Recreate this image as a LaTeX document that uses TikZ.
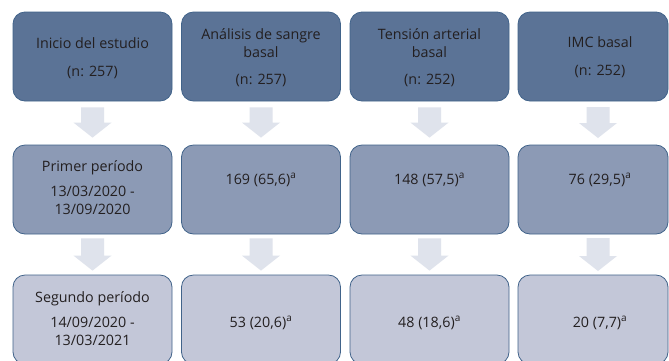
\documentclass[tikz,border=0pt]{standalone}
\usepackage{fontspec}
\setmainfont{Open Sans}
\usetikzlibrary{calc}
\definecolor{rowA}{HTML}{5B7396}
\definecolor{rowB}{HTML}{8C9AB5}
\definecolor{rowC}{HTML}{C3C7D8}
\definecolor{edgeC}{HTML}{41638A}
\definecolor{arrC}{HTML}{DFE3EC}
\definecolor{txtC}{HTML}{231F20}
\newcommand\flowarr[4]{\fill[arrC] let \p1=(#1.south), \p2=(#2.north) in
 (\x1-11.5pt,\y1-#3) -- (\x1+11.5pt,\y1-#3) -- (\x1+11.5pt,\y2+#4+15pt) -- (\x1+19pt,\y2+#4+15pt) -- (\x1,\y2+#4) -- (\x1-19pt,\y2+#4+15pt) -- (\x1-11.5pt,\y2+#4+15pt) -- cycle;}
\begin{document}
\begin{tikzpicture}[x=1pt,y=-1pt,
  box/.style={draw=edgeC, line width=0.8pt, rounded corners=12pt, minimum width=159pt, minimum height=89pt, inner sep=0pt},
  wbox/.style={box, minimum width=150pt},
  lbl/.style={text=txtC, align=center, inner sep=0pt, font=\fontsize{14.3}{18}\selectfont}]
\useasboundingbox (0,0) rectangle (669,360);
\fill[white] (0,0) rectangle (669,360);
\begin{scope}
\clip (0,0) rectangle (669,360);
% row 1
\node[box, fill=rowA] (b11) at (92.5,56.5) {};
\node[box, fill=rowA] (b12) at (261,56.5) {};
\node[box, fill=rowA] (b13) at (429.5,56.5) {};
\node[wbox, fill=rowA] (b14) at (593,56.5) {};
% row 2
\node[box, fill=rowB] (b21) at (92.5,189.5) {};
\node[box, fill=rowB] (b22) at (261,189.5) {};
\node[box, fill=rowB] (b23) at (429.5,189.5) {};
\node[wbox, fill=rowB] (b24) at (593,189.5) {};
% row 3
\node[box, fill=rowC] (b31) at (92.5,319.5) {};
\node[box, fill=rowC] (b32) at (261,319.5) {};
\node[box, fill=rowC] (b33) at (429.5,319.5) {};
\node[wbox, fill=rowC] (b34) at (593,319.5) {};
% arrows
\coordinate (c14) at (598,101);
\coordinate (c24) at (598,145);
\coordinate (d14) at (598,234);
\coordinate (d24) at (598,275);
\flowarr{b11}{b21}{6pt}{7pt}
\flowarr{b12}{b22}{6pt}{7pt}
\flowarr{b13}{b23}{6pt}{7pt}
\flowarr{c14}{c24}{6pt}{7pt}
\flowarr{b21}{b31}{4pt}{4pt}
\flowarr{b22}{b32}{4pt}{4pt}
\flowarr{b23}{b33}{4pt}{4pt}
\flowarr{d14}{d24}{4pt}{4pt}
% texts row 1
\node[lbl] (t11) at (92.5,58) {Inicio del estudio\\[10pt](n: 257)};
\node[lbl] (t12) at (261,57.5) {Análisis de sangre\\basal\\[9pt](n: 257)};
\node[lbl] (t13) at (429.5,57.5) {Tensión arterial\\basal\\[9pt](n: 252)};
\node[lbl] (t14) at (600,57) {IMC basal\\[10pt](n: 252)};
% texts row 2
\node[lbl] (t21) at (92.5,187.5) {Primer período\\[7pt]13/03/2020 -\\13/09/2020};
\node[lbl] (t22) at (261,180) {169 (65,6)\textsuperscript{a}};
\node[lbl] (t23) at (429.5,180) {148 (57,5)\textsuperscript{a}};
\node[lbl] (t24) at (600,180) {76 (29,5)\textsuperscript{a}};
% texts row 3
\node[lbl] (t31) at (92.5,319) {Segundo período\\[7pt]14/09/2020 -\\13/03/2021};
\node[lbl] (t32) at (261,323) {53 (20,6)\textsuperscript{a}};
\node[lbl] (t33) at (429.5,323) {48 (18,6)\textsuperscript{a}};
\node[lbl] (t34) at (600,323) {20 (7,7)\textsuperscript{a}};
\end{scope}
\end{tikzpicture}
\end{document}
